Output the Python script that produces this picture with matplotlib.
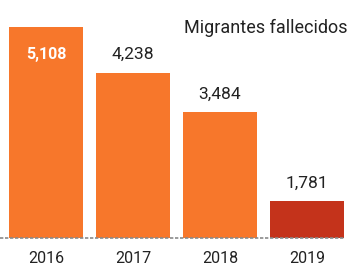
import matplotlib
matplotlib.use('Agg')
import matplotlib.pyplot as plt

years = ['2016', '2017', '2018', '2019']
deaths = [5108, 4238, 3484, 1781]
bar_colors = ['#F7772B', '#F7772B', '#F7772B', '#C4331B']
title = 'Migrantes fallecidos'

FONT = 'Roboto'

W, H = 351, 267
fig = plt.figure(figsize=(W / 100, H / 100), dpi=100, facecolor='white')
ax = fig.add_axes([0, 29 / H, 1, 1 - 29 / H])

x = list(range(len(years)))
bars = ax.bar(x, deaths, width=0.85, color=bar_colors, zorder=2)
ax.set_xlim(-46 / 87, (W - 46) / 87)
ax.set_ylim(1082, 1082 + 238 / 0.0524)

# base line (dotted gray)
ax.plot([-46 / 87, 3.43], [1082, 1082], color='#8a8a8a', lw=1.2, ls=(0, (2, 1)),
        clip_on=False, zorder=3)

for i, (b, v) in enumerate(zip(bars, deaths)):
    cx = b.get_x() + b.get_width() / 2
    if i == 0:
        ax.text(cx, v - 390, f'{v:,}', ha='center', va='top', fontsize=11.5,
                fontweight='bold', color='white', family=FONT)
    else:
        ax.text(cx, v + 200, f'{v:,}', ha='center', va='bottom', fontsize=12.5,
                color='#222222', family=FONT)

for xi, yr in zip(x, years):
    fig.text((46 + 87 * xi) / W, 4 / H, yr, ha='center', va='baseline',
             fontsize=11.5, color='#222222', family=FONT)

fig.text(347 / W, 1 - 33 / H, title, ha='right', va='baseline', fontsize=13,
         color='#222222', family=FONT)

ax.axis('off')
fig.savefig('out.png', dpi=100, facecolor='white')
